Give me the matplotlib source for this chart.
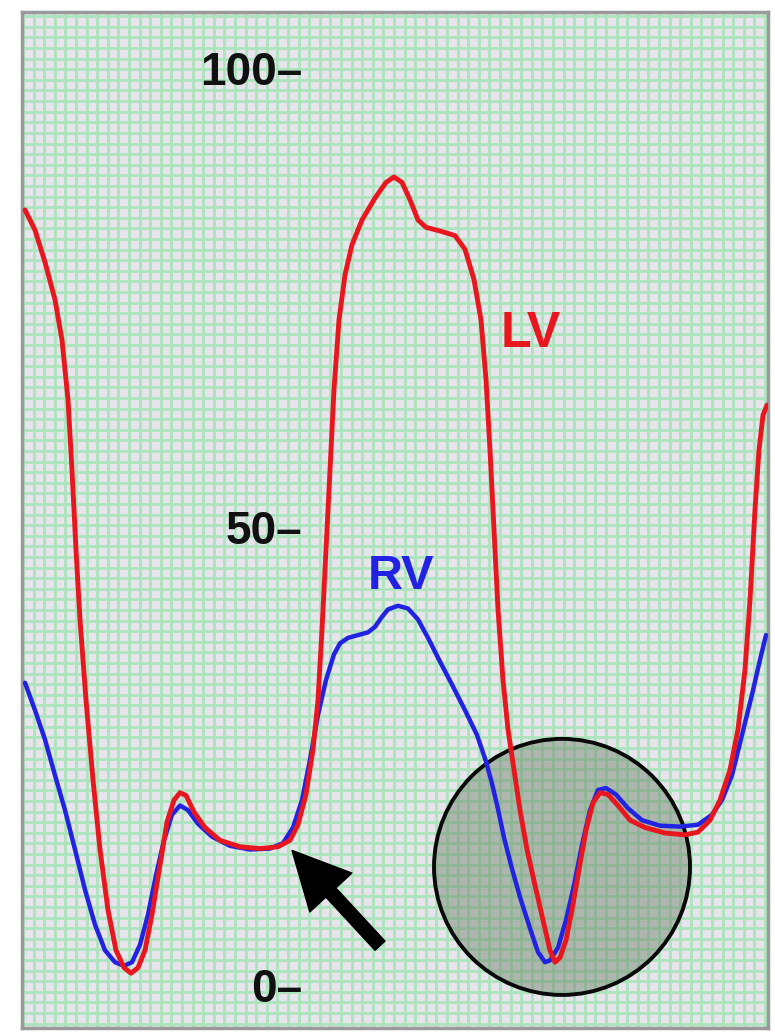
import numpy as np
import matplotlib
matplotlib.use("Agg")
import matplotlib.pyplot as plt
from matplotlib.patches import Ellipse, FancyArrowPatch

# Time (ms from trace start) and pressure (mmHg) for both ventricles
lv_t = [3, 13, 23, 33, 40, 46, 50, 54, 58, 64, 71, 78, 86, 94, 102, 109, 116, 123,
        130, 138, 145, 152, 158, 164, 172, 183, 198, 218, 238, 256, 268, 276, 284,
        291, 296, 300, 304, 308, 312, 317, 323, 330, 340, 353, 364, 372, 380, 388,
        396, 404, 418, 433, 443, 452, 459, 464, 468, 472, 476, 481, 486, 492, 498,
        505, 513, 521, 528, 533, 538, 544, 550, 557, 564, 571, 578, 586, 596, 608,
        623, 643, 663, 676, 688, 698, 708, 716, 723, 728, 733, 737, 741, 745]
lv_p = [84.8, 82.6, 79.1, 75.0, 70.6, 64.1, 56.4, 47.7, 40.1, 31.3, 22.6, 15.0, 8.4,
        4.0, 2.1, 1.5, 2.1, 4.0, 7.9, 13.3, 18.0, 20.4, 21.2, 20.9, 19.1, 17.4, 16.0,
        15.3, 15.1, 15.3, 16.0, 17.7, 21.0, 25.9, 31.3, 39.0, 47.7, 56.4, 65.2, 72.8,
        77.7, 81.0, 83.7, 86.1, 87.8, 88.4, 87.8, 85.9, 83.7, 82.9, 82.5, 82.0, 80.5,
        77.2, 72.8, 66.3, 58.6, 49.9, 41.2, 33.5, 28.1, 23.7, 19.3, 15.0, 11.1, 7.3,
        4.0, 2.7, 3.2, 5.1, 8.4, 12.8, 17.1, 20.1, 21.2, 21.0, 19.8, 18.2, 17.4, 16.8,
        16.6, 16.9, 18.2, 20.4, 23.7, 28.1, 34.6, 42.2, 52.1, 58.6, 62.4, 63.5]

rv_t = [3, 13, 23, 33, 43, 53, 63, 73, 83, 93, 102, 110, 118, 126, 134, 142, 150,
        158, 166, 176, 190, 208, 228, 248, 261, 271, 280, 288, 296, 304, 312, 318,
        326, 336, 346, 353, 360, 366, 376, 386, 396, 406, 418, 430, 443, 455, 464,
        470, 476, 482, 490, 498, 508, 516, 523, 528, 536, 544, 552, 560, 568, 576,
        584, 594, 606, 620, 638, 658, 676, 690, 700, 710, 720, 730, 738, 744]
rv_p = [33.2, 30.2, 27.0, 23.1, 19.3, 15.0, 10.6, 6.8, 4.0, 2.7, 2.3, 2.7, 4.6, 7.9,
        12.2, 16.0, 18.8, 19.8, 19.3, 17.8, 16.4, 15.4, 15.0, 15.1, 15.7, 17.4, 20.4,
        24.8, 29.7, 33.5, 36.3, 37.5, 38.1, 38.4, 38.7, 39.3, 40.4, 41.2, 41.6, 41.3,
        40.1, 38.1, 35.5, 33.0, 30.2, 27.5, 24.6, 22.2, 19.4, 16.3, 12.9, 9.8, 6.4,
        3.8, 2.7, 2.9, 4.3, 7.3, 11.1, 15.5, 19.3, 21.5, 21.7, 21.0, 19.5, 18.2, 17.6,
        17.5, 17.7, 18.8, 20.4, 23.1, 27.5, 31.9, 35.7, 38.4]

scale_ticks = [100, 50, 0]
scale_labels = ["100–", "50–", "0–"]

RED = "#e8161f"
BLUE = "#2222e2"

fig = plt.figure(figsize=(7.75, 10.33), dpi=100, facecolor="white")
ax = fig.add_axes([22 / 775, 5 / 1033, 746 / 775, 1016 / 1033])
ax.set_xlim(0, 746)
ax.set_ylim(-4.48, 106.4)
ax.set_facecolor("#e8e4ec")

# chart-paper grid
gx = 10.6
gy = gx / 9.16
ax.set_xticks(np.arange(1, 746, gx))
ax.set_yticks(np.arange(-4.0, 106.4, gy))
ax.grid(True, color="#ace4bd", linewidth=2.0)
ax.set_axisbelow(True)
ax.tick_params(length=0, labelbottom=False, labelleft=False)
for s in ax.spines.values():
    s.set_color("#9a9a9a")
    s.set_linewidth(2.5)

# highlighted diastolic region
ax.add_patch(Ellipse((540, 13.1), 256, 256 / 9.16, facecolor=(0.42, 0.5, 0.40, 0.45),
                     edgecolor="#0a0a0a", linewidth=2.8, zorder=2))

ax.plot(rv_t, rv_p, color=BLUE, linewidth=3.2, solid_joinstyle="round",
        solid_capstyle="round", zorder=3)
ax.plot(lv_t, lv_p, color=RED, linewidth=3.5, solid_joinstyle="round",
        solid_capstyle="round", zorder=4)

fp = dict(family=["Liberation Sans", "DejaVu Sans"], fontweight="bold")
for v, lab in zip(scale_ticks, scale_labels):
    ax.text(280, v - 0.3, lab, ha="right", va="center", fontsize=33, color="#111111",
            zorder=5, **fp)

ax.text(509, 71.3, "LV", ha="center", va="center", fontsize=36, color=RED, zorder=5, **fp)
ax.text(379, 44.8, "RV", ha="center", va="center", fontsize=35, color=BLUE, zorder=5, **fp)

# arrow pointing at the diastolic plateau
ax.add_patch(FancyArrowPatch((358, 4.5), (270, 14.9),
                             arrowstyle="simple,head_length=0.55,head_width=0.55,tail_width=0.13",
                             mutation_scale=75, color="black", shrinkA=0, shrinkB=0, zorder=6))

fig.savefig("out.png", dpi=100, facecolor="white")
